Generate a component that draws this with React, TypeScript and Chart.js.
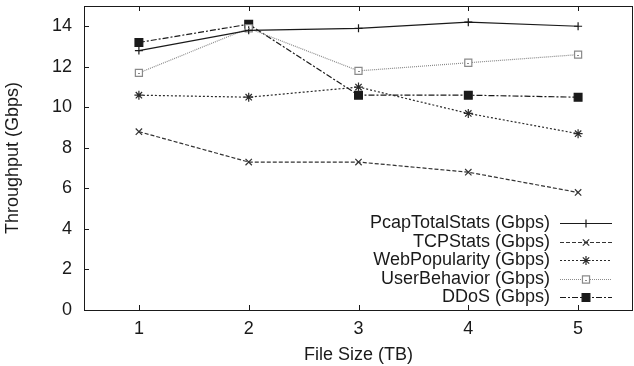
import React, { useEffect, useRef } from "react";
import { Chart, registerables } from "chart.js";
import { drawPoint } from "chart.js/helpers";

Chart.register(...registerables);

const fileSizes = [1, 2, 3, 4, 5];
const yTicks = [0, 2, 4, 6, 8, 10, 12, 14];
const pcapTotalStats = [12.8, 13.8, 13.9, 14.2, 14.0];
const tcpStats = [8.8, 7.3, 7.3, 6.8, 5.8];
const webPopularity = [10.6, 10.5, 11.0, 9.7, 8.7];
const userBehavior = [11.7, 13.9, 11.8, 12.2, 12.6];
const ddos = [13.2, 14.1, 10.6, 10.6, 10.5];

const FONT = "'Liberation Sans', Arial, sans-serif";

const seriesDefs = [
  { label: "PcapTotalStats (Gbps)", data: pcapTotalStats, color: "#1a1a1a", dash: [], style: "cross", radius: 4, fill: false },
  { label: "TCPStats (Gbps)", data: tcpStats, color: "#333333", dash: [4, 2], style: "crossRot", radius: 4.5, fill: false },
  { label: "WebPopularity (Gbps)", data: webPopularity, color: "#2a2a2a", dash: [2, 2], style: "star", radius: 4.5, fill: false },
  { label: "UserBehavior (Gbps)", data: userBehavior, color: "#8a8a8a", dash: [1, 1], style: "rect", radius: 5, fill: false },
  { label: "DDoS (Gbps)", data: ddos, color: "#1a1a1a", dash: [6, 2, 2, 2], style: "rect", radius: 5.5, fill: true },
];

const framePlugin = {
  id: "gnuframe",
  afterDraw(chart: any) {
    const { ctx, chartArea } = chart;
    const { left, right, top, bottom } = chartArea;
    const xs = chart.scales.x;
    const ys = chart.scales.y;
    ctx.save();
    ctx.strokeStyle = "#1a1a1a";
    ctx.lineWidth = 1;
    ctx.setLineDash([]);
    ctx.strokeRect(Math.round(left) + 0.5, Math.round(top) + 0.5, Math.round(right - left) - 1, Math.round(bottom - top));
    ctx.beginPath();
    fileSizes.forEach((v) => {
      const px = Math.round(xs.getPixelForValue(v)) + 0.5;
      ctx.moveTo(px, bottom);
      ctx.lineTo(px, bottom - 5);
      ctx.moveTo(px, top);
      ctx.lineTo(px, top + 5);
    });
    yTicks.forEach((v) => {
      const py = Math.round(ys.getPixelForValue(v)) + 0.5;
      ctx.moveTo(left, py);
      ctx.lineTo(left + 5, py);
    });
    ctx.stroke();

    // small centre dots inside the open squares (UserBehavior)
    const ubMeta = chart.getDatasetMeta(3);
    ctx.fillStyle = "#8a8a8a";
    ubMeta.data.forEach((pt: any) => {
      ctx.fillRect(Math.round(pt.x) - 1, Math.round(pt.y), 2, 1);
    });

    // legend (gnuplot style: right-aligned text, sample on the right)
    const rowH = 18.5;
    const firstY = bottom - 87;
    const lineX0 = right - 73;
    const lineX1 = right - 21;
    const textRight = right - 83;
    ctx.font = `18px ${FONT}`;
    ctx.textAlign = "right";
    ctx.textBaseline = "middle";
    seriesDefs.forEach((s, i) => {
      const y = Math.round(firstY + i * rowH) + 0.5;
      ctx.fillStyle = "#1a1a1a";
      ctx.fillText(s.label, textRight, y);
      ctx.strokeStyle = s.color;
      ctx.lineWidth = 1.2;
      ctx.setLineDash(s.dash);
      ctx.beginPath();
      ctx.moveTo(lineX0, y);
      ctx.lineTo(lineX1, y);
      ctx.stroke();
      ctx.setLineDash([]);
      ctx.fillStyle = s.fill ? s.color : "#ffffff";
      ctx.strokeStyle = s.color;
      ctx.lineWidth = 1.2;
      const mx = (lineX0 + lineX1) / 2;
      drawPoint(ctx, { pointStyle: s.style, radius: s.radius, rotation: 0, borderWidth: 1.2 }, mx, y);
      if (i === 3) {
        ctx.fillStyle = s.color;
        ctx.fillRect(Math.round(mx) - 1, Math.round(y), 2, 1);
      }
    });
    ctx.restore();
  },
};

export default function App() {
  const ref = useRef<HTMLCanvasElement | null>(null);
  useEffect(() => {
    document.body.style.margin = "0";
    const canvas = ref.current!;
    const chart = new Chart(canvas, {
      type: "line",
      data: {
        datasets: seriesDefs.map((s) => ({
          label: s.label,
          data: s.data.map((v, i) => ({ x: fileSizes[i], y: v })),
          borderColor: s.color,
          borderWidth: 1.2,
          borderDash: s.dash,
          pointStyle: s.style as any,
          pointRadius: s.radius,
          pointBorderWidth: 1.2,
          pointBorderColor: s.color,
          pointBackgroundColor: s.fill ? s.color : "#ffffff",
          fill: false,
          tension: 0,
          clip: false,
        })),
      },
      options: {
        responsive: false,
        animation: false,
        devicePixelRatio: 1,
        layout: { autoPadding: false, padding: { top: 6, right: 1, left: 0, bottom: 0 } },
        plugins: { legend: { display: false }, tooltip: { enabled: false } },
        scales: {
          x: {
            type: "linear",
            min: 0.5,
            max: 5.5,
            afterBuildTicks: (axis: any) => {
              axis.ticks = fileSizes.map((v) => ({ value: v }));
            },
            afterFit: (axis: any) => {
              axis.height = 56;
              axis.paddingLeft = 0;
              axis.paddingRight = 0;
            },
            grid: { display: false, drawTicks: false },
            border: { display: false },
            ticks: { color: "#1a1a1a", font: { family: FONT, size: 18 }, padding: 8, maxRotation: 0 },
            title: { display: true, text: "File Size (TB)", color: "#1a1a1a", font: { family: FONT, size: 18 }, padding: { top: 0, bottom: 0 } },
          },
          y: {
            type: "linear",
            min: 0,
            max: 15,
            afterBuildTicks: (axis: any) => {
              axis.ticks = yTicks.map((v) => ({ value: v }));
            },
            afterFit: (axis: any) => {
              axis.width = 84;
              axis.paddingTop = 0;
              axis.paddingBottom = 0;
            },
            grid: { display: false, drawTicks: false },
            border: { display: false },
            ticks: { color: "#1a1a1a", font: { family: FONT, size: 18 }, padding: 12 },
            title: { display: true, text: "Throughput (Gbps)", color: "#1a1a1a", font: { family: FONT, size: 18 }, padding: { top: 2, bottom: 0 } },
          },
        },
      },
      plugins: [framePlugin],
    });
    return () => chart.destroy();
  }, []);
  return (
    <div style={{ position: "absolute", left: 0, top: 0, width: 634, height: 366, background: "#fff" }}>
      <canvas ref={ref} width={634} height={366} style={{ display: "block" }} />
    </div>
  );
}
